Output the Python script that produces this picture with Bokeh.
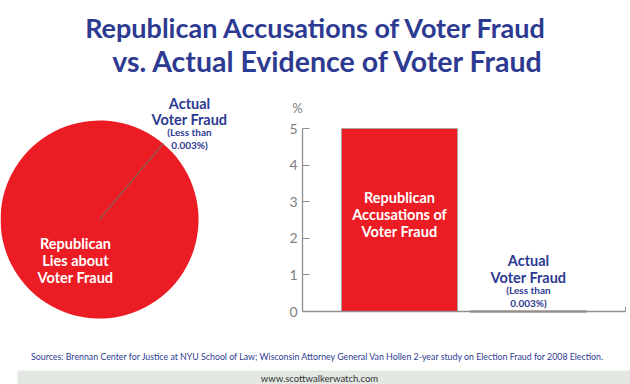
import math
from bokeh.plotting import figure
from bokeh.layouts import column, row
from bokeh.models import Range1d, FixedTicker, BoxAnnotation, ColumnDataSource
from bokeh.core.properties import value
from bokeh.embed import file_html
from bokeh.resources import INLINE

# ---------------- data ----------------
title_lines = ["Republican Accusations of Voter Fraud", "vs. Actual Evidence of Voter Fraud"]
pie_names = ["Actual Voter Fraud", "Republican Lies about Voter Fraud"]
pie_values = [0.003, 99.997]
bar_categories = ["Republican Accusations of Voter Fraud", "Actual Voter Fraud"]
bar_values = [5.0, 0.003]
y_ticks = [0, 1, 2, 3, 4, 5]
y_unit = "%"
lies_label = ["Republican", "Lies about", "Voter Fraud"]
accus_label = ["Republican", "Accusations of", "Voter Fraud"]
actual_label = ["Actual", "Voter Fraud", "(Less than", "0.003%)"]
sources = ("Sources:  Brennan Center for Justice at NYU School of Law;  Wisconsin Attorney General "
           "Van Hollen 2-year study on Election Fraud for 2008 Election.")
site = "www.scottwalkerwatch.com"

RED = "#ec1c24"
BLUE = "#2d3a91"
SLICE = "#86624f"
AXIS = "#8f8f8f"
FONT = value("Lato")


def blank(w, h, xr, yr):
    f = figure(width=w, height=h, x_range=xr, y_range=yr, output_backend="svg",
               toolbar_location=None, x_axis_type=None, y_axis_type=None,
               min_border=0, outline_line_color=None)
    f.grid.visible = False
    return f


# ---------------- title ----------------
tp = blank(630, 76, Range1d(0, 630), Range1d(76, 0))
tp.text(x=[316, 328], y=[27, 60], text=title_lines, text_font=FONT, text_font_style="bold",
        text_font_size=["27px", "28.5px"], text_color=BLUE, text_align="center",
        text_baseline="alphabetic")

# ---------------- pie ----------------
pp = blank(240, 264, Range1d(0, 240), Range1d(0, 264))
total = sum(pie_values)
orient = math.radians(50)
starts, ends = [], []
acc = orient
for v in pie_values:
    starts.append(acc)
    acc += 2 * math.pi * v / total
    ends.append(acc)
fills = [SLICE, RED]
lines = [SLICE, RED]
widths = [1.2, 0.0]
# draw the large slice first so the thin slice stays visible on top
order = sorted(range(len(pie_values)), key=lambda i: -pie_values[i])
psrc = ColumnDataSource(dict(name=[pie_names[i] for i in order],
                             value=[pie_values[i] for i in order],
                             start=[starts[i] for i in order], end=[ends[i] for i in order],
                             fill=[fills[i] for i in order], line=[lines[i] for i in order],
                             lw=[widths[i] for i in order]))
pp.wedge(x=99, y=121, radius=99, radius_units="screen", start_angle="start", end_angle="end",
         fill_color="fill", line_color="line", line_width="lw", source=psrc)
pp.text(x=[75] * 3, y=[97, 80, 63], text=lies_label, text_font=FONT, text_font_style="bold",
        text_font_size="14.5px", text_color="white", text_align="center", text_baseline="alphabetic")
pp.text(x=[189] * 4, y=[237, 221, 209, 196], text=actual_label, text_font=FONT,
        text_font_style="bold", text_font_size=["14.5px", "14.5px", "10px", "10px"],
        text_color=BLUE, text_align="center", text_baseline="alphabetic")

# ---------------- bars ----------------
# numeric positions for the two categories: 0 and 1
xpos = list(range(len(bar_categories)))
bp = figure(width=390, height=264, x_range=Range1d(-1.2326, 1.7907),
            y_range=Range1d(-0.792, 6.421), output_backend="svg", toolbar_location=None,
            min_border=0, outline_line_color=None)
bp.grid.visible = False
bsrc = ColumnDataSource(dict(x=xpos, cat=bar_categories, val=bar_values,
                             line=["#b0a2a2", SLICE], lw=[1.0, 2.0]))
bp.vbar(x="x", top="val", width=0.9, fill_color=RED, line_color="line", line_width="lw",
        source=bsrc)

# y axis sits inside the frame
bp.yaxis.fixed_location = -0.752
bp.yaxis.bounds = (0, 5)
bp.yaxis.ticker = FixedTicker(ticks=y_ticks)
bp.yaxis.major_tick_in = 7
bp.yaxis.major_tick_out = 0
bp.yaxis.minor_tick_line_color = None
bp.yaxis.major_label_standoff = 5
bp.yaxis.major_label_text_font = "Lato"
bp.yaxis.major_label_text_font_size = "14px"
bp.yaxis.major_label_text_color = "#808080"
bp.yaxis.major_tick_line_color = AXIS
# x axis as the baseline at 0
bp.xaxis.fixed_location = 0
bp.xaxis.bounds = (-0.752, 1.752)
bp.xaxis.ticker = FixedTicker(ticks=[1.752])
bp.xaxis.major_tick_in = 5
bp.xaxis.major_tick_out = 0
bp.xaxis.minor_tick_line_color = None
bp.xaxis.major_tick_line_color = AXIS
bp.xaxis.major_label_text_color = None
bp.axis.axis_line_color = AXIS
bp.axis.axis_line_width = 1.3

bp.text(x=[-0.791], y=[5.55], text=[y_unit], text_font=FONT, text_font_size="13px",
        text_color="#808080", text_align="center", text_baseline="alphabetic")

lab1 = ColumnDataSource(dict(x=[xpos[0]] * 3, y=[bar_values[0] / 2] * 3,
                             t=accus_label, dy=[-22.5, -5.5, 11.5]))
bp.text(x="x", y="y", text="t", y_offset="dy", source=lab1, text_font=FONT,
        text_font_style="bold", text_font_size="14.5px", text_color="white",
        text_align="center", text_baseline="alphabetic")
lab2 = ColumnDataSource(dict(x=[xpos[1]] * 4, y=[bar_values[1]] * 4,
                             t=actual_label, dy=[-51, -34, -21, -8],
                             fs=["14.5px", "14.5px", "10px", "10px"]))
bp.text(x="x", y="y", text="t", y_offset="dy", source=lab2, text_font=FONT,
        text_font_style="bold", text_font_size="fs", text_color=BLUE,
        text_align="center", text_baseline="alphabetic")

# ---------------- footer ----------------
fp = blank(630, 44, Range1d(0, 630), Range1d(384, 340))
fp.add_layout(BoxAnnotation(left=17, right=630, top=370, bottom=384, fill_color="#e3e8e3",
                            fill_alpha=1.0, line_color=None, level="underlay"))
fp.text(x=[320], y=[356], text=[sources], text_font=FONT, text_font_size="8.8px",
        text_color=BLUE, text_align="center", text_baseline="alphabetic")
fp.text(x=[319], y=[378], text=[site], text_font=FONT, text_font_size="9.5px",
        text_color="#333333", text_align="center", text_baseline="alphabetic")

layout = column(tp, row(pp, bp), fp)
open("out.html", "w").write(file_html(layout, INLINE))
